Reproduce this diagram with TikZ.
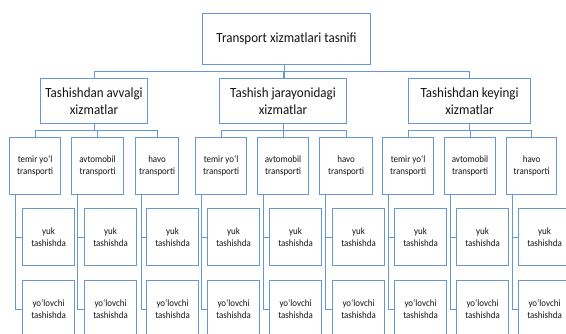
\documentclass[tikz,border=0pt]{standalone}
\usepackage{fontspec}
\setmainfont{Carlito}[FakeStretch=0.93]
\usetikzlibrary{backgrounds}
\definecolor{bcol}{RGB}{104,152,210}
\definecolor{tcol}{RGB}{20,20,20}
\tikzset{
  box/.style={draw=bcol, line width=1.1pt, fill=white, inner sep=0pt, align=center, anchor=north west, text=tcol},
  topbox/.style={box, font=\fontsize{14}{17}\selectfont},
  midbox/.style={box, minimum height=45pt, font=\fontsize{14}{17}\selectfont},
  tbox/.style={box, minimum height=57pt, font=\fontsize{9.6}{11.7}\selectfont},
  lbox/.style={box, minimum width=52pt, minimum height=57pt, font=\fontsize{9.6}{11.7}\selectfont},
  conn/.style={draw=bcol, line width=0.9pt},
}
\begin{document}
\begin{tikzpicture}[x=1pt,y=-1pt]
\useasboundingbox (0,0) rectangle (566,334);
\clip (0,0) rectangle (566,334);
% level 1 and 2
\node[topbox, minimum width=168pt, minimum height=51pt] (top) at (202,13) {Transport xizmatlari tasnifi};
\node[midbox, minimum width=107pt] (b1) at (40,78) {Tashishdan avvalgi\\xizmatlar};
\node[midbox, minimum width=127pt] (b2) at (219,78) {Tashish jarayonidagi\\xizmatlar};
\node[midbox, minimum width=122pt] (b3) at (408,78) {Tashishdan keyingi\\xizmatlar};
% level 3
\node[tbox, minimum width=51pt] (t11) at (9,137) {temir yo‘l\\transporti};
\node[tbox, minimum width=52pt] (t12) at (71,137) {avtomobil\\transporti};
\node[tbox, minimum width=43pt] (t13) at (135,137) {havo\\transporti};
\node[tbox, minimum width=51pt] (t21) at (195,137) {temir yo‘l\\transporti};
\node[tbox, minimum width=51pt] (t22) at (257,137) {avtomobil\\transporti};
\node[tbox, minimum width=53pt] (t23) at (319,137) {havo\\transporti};
\node[tbox, minimum width=51pt] (t31) at (382,137) {temir yo‘l\\transporti};
\node[tbox, minimum width=51pt] (t32) at (444,137) {avtomobil\\transporti};
\node[tbox, minimum width=50pt] (t33) at (506,137) {havo\\transporti};
% level 4
\foreach \n/\x in {11/22,12/84,13/146,21/207,22/269,23/332,31/394,32/456,33/518}{
  \node[lbox] (y\n) at (\x,208) {yuk\\tashishda};
  \node[lbox] (w\n) at (\x,280) {yo‘lovchi\\tashishda};
}
% connectors
\begin{scope}[on background layer]
\draw[conn] ([xshift=-1.8pt]top.south) -- ([xshift=-1.8pt]top.south |- b1.north);
\draw[conn] ([xshift=2.2pt]top.south) -- ([xshift=2.2pt,yshift=6pt]top.south);
\draw[conn] (b1.north) -- ++(0,-7) -| (b3.north);
\draw[conn] (b2.north) -- ++(0,-7);
\foreach \g in {1,2,3}{
  \draw[conn] (b\g.south) -- ++(0,7);
  \draw[conn] (t\g1.north) -- ++(0,-7) -| (t\g3.north);
  \draw[conn] (t\g2.north) -- ++(0,-7);
  \foreach \c in {1,2,3}{
    \draw[conn] ([xshift=6pt]t\g\c.south west) |- (y\g\c.west);
    \draw[conn] ([xshift=6pt]t\g\c.south west) |- (w\g\c.west);
  }
}
\end{scope}
\end{tikzpicture}
\end{document}
